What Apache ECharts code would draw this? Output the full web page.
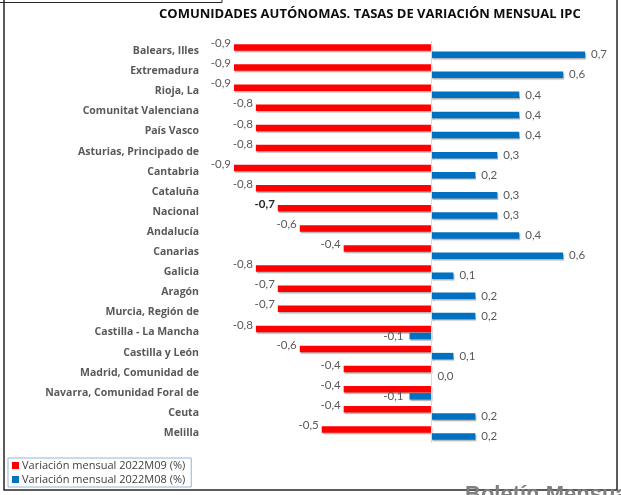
<!DOCTYPE html>
<html>
<head>
<meta charset="utf-8">
<script src="https://cdn.jsdelivr.net/npm/echarts@6/dist/echarts.min.js"></script>
<style>
  html, body { margin: 0; padding: 0; background: #fff; }
  #main { width: 621px; height: 495px; }
</style>
</head>
<body>
<div id="main"></div>
<script>
// comunidades (de arriba a abajo)
var comunidades = ['Balears, Illes', 'Extremadura', 'Rioja, La', 'Comunitat Valenciana', 'País Vasco',
  'Asturias, Principado de', 'Cantabria', 'Cataluña', 'Nacional', 'Andalucía', 'Canarias', 'Galicia',
  'Aragón', 'Murcia, Región de', 'Castilla - La Mancha', 'Castilla y León', 'Madrid, Comunidad de',
  'Navarra, Comunidad Foral de', 'Ceuta', 'Melilla'];

// variación mensual 2022M09 (%)
var var2022M09 = [-0.9, -0.9, -0.9, -0.8, -0.8, -0.8, -0.9, -0.8, -0.7, -0.6, -0.4, -0.8,
  -0.7, -0.7, -0.8, -0.6, -0.4, -0.4, -0.4, -0.5];

// variación mensual 2022M08 (%)
var var2022M08 = [0.7, 0.6, 0.4, 0.4, 0.4, 0.3, 0.2, 0.3, 0.3, 0.4, 0.6, 0.1,
  0.2, 0.2, -0.1, 0.1, 0.0, -0.1, 0.2, 0.2];

var nombreSerie1 = 'Variación mensual 2022M09 (%)';
var nombreSerie2 = 'Variación mensual 2022M08 (%)';

var fmt = function (v) { return v.toFixed(1).replace('.', ','); };

var sombra = {
  shadowColor: 'rgba(0,0,0,0.3)',
  shadowOffsetX: 1,
  shadowOffsetY: 1.5,
  shadowBlur: 1
};

// el dato Nacional va con la etiqueta en negrita
function datos(arr, negrita) {
  return arr.map(function (v, i) {
    var d = { value: v };
    if (comunidades[i] === 'Nacional' && negrita) {
      d.label = { fontWeight: 'bold', color: '#262626' };
    }
    if (v < 0 && !negrita) {
      d.label = { position: 'left' };
    }
    return d;
  });
}

var myChart = echarts.init(document.getElementById('main'));

myChart.setOption({
  backgroundColor: '#fff',
  animation: false,
  title: {
    text: 'COMUNIDADES AUTÓNOMAS. TASAS DE VARIACIÓN MENSUAL IPC',
    left: 154,
    top: 3,
    textStyle: { fontFamily: 'Open Sans', fontSize: 13, fontWeight: 'bold', color: '#0d0d0d' }
  },
  legend: {
    orient: 'vertical',
    left: 8,
    top: 458,
    data: [nombreSerie1, nombreSerie2],
    icon: 'rect',
    itemWidth: 7,
    itemHeight: 7,
    itemGap: 3,
    padding: [2, 6, 2, 4],
    borderColor: '#95b3d7',
    borderWidth: 1,
    textStyle: { fontFamily: 'Open Sans', fontSize: 11, color: '#404040', padding: [0, 0, 0, -2] }
  },
  grid: { left: 212, right: 14, top: 41, bottom: 52 },
  xAxis: {
    type: 'value',
    min: -1,
    max: 0.8,
    show: false
  },
  yAxis: {
    type: 'category',
    inverse: true,
    data: comunidades,
    axisLine: { show: false },
    axisTick: { show: false },
    axisLabel: {
      margin: 13,
      fontFamily: 'Open Sans',
      fontWeight: 'bold',
      fontSize: 10.5,
      color: '#595959'
    }
  },
  series: [{
    name: nombreSerie1,
    type: 'bar',
    data: datos(var2022M09, true),
    barWidth: 6.5,
    barGap: '10%',
    itemStyle: Object.assign({ color: '#ff0000' }, sombra),
    label: {
      show: true,
      position: 'left',
      distance: 3,
      offset: [0, -4],
      formatter: function (p) { return fmt(p.value); },
      fontFamily: 'Lato',
      fontSize: 11.5,
      color: '#595959'
    },
    markLine: {
      silent: true,
      symbol: 'none',
      label: { show: false },
      lineStyle: { color: '#d9d9d9', width: 1, type: 'solid' },
      data: [{ xAxis: 0 }]
    }
  }, {
    name: nombreSerie2,
    type: 'bar',
    data: datos(var2022M08, false),
    barWidth: 6.5,
    itemStyle: Object.assign({ color: '#0070c0' }, sombra),
    label: {
      show: true,
      position: 'right',
      distance: 6,
      formatter: function (p) { return fmt(p.value); },
      fontFamily: 'Lato',
      fontSize: 11.5,
      color: '#595959'
    }
  }],
  graphic: [
    { type: 'polyline', shape: { points: [[4, 0], [4, 490], [617, 490], [617, 0]] }, style: { stroke: '#262626', lineWidth: 1.5, fill: null }, silent: true },
    { type: 'polyline', shape: { points: [[0, 2.5], [222, 2.5], [222, 0]] }, style: { stroke: '#262626', lineWidth: 1, fill: null }, silent: true },
    { type: 'text', left: 465, top: 484, silent: true, style: { text: 'Boletín Mensual', fontFamily: 'Liberation Sans', fontSize: 22, fontWeight: 'bold', fill: '#7f7f7f' } }
  ]
});
</script>
</body>
</html>
